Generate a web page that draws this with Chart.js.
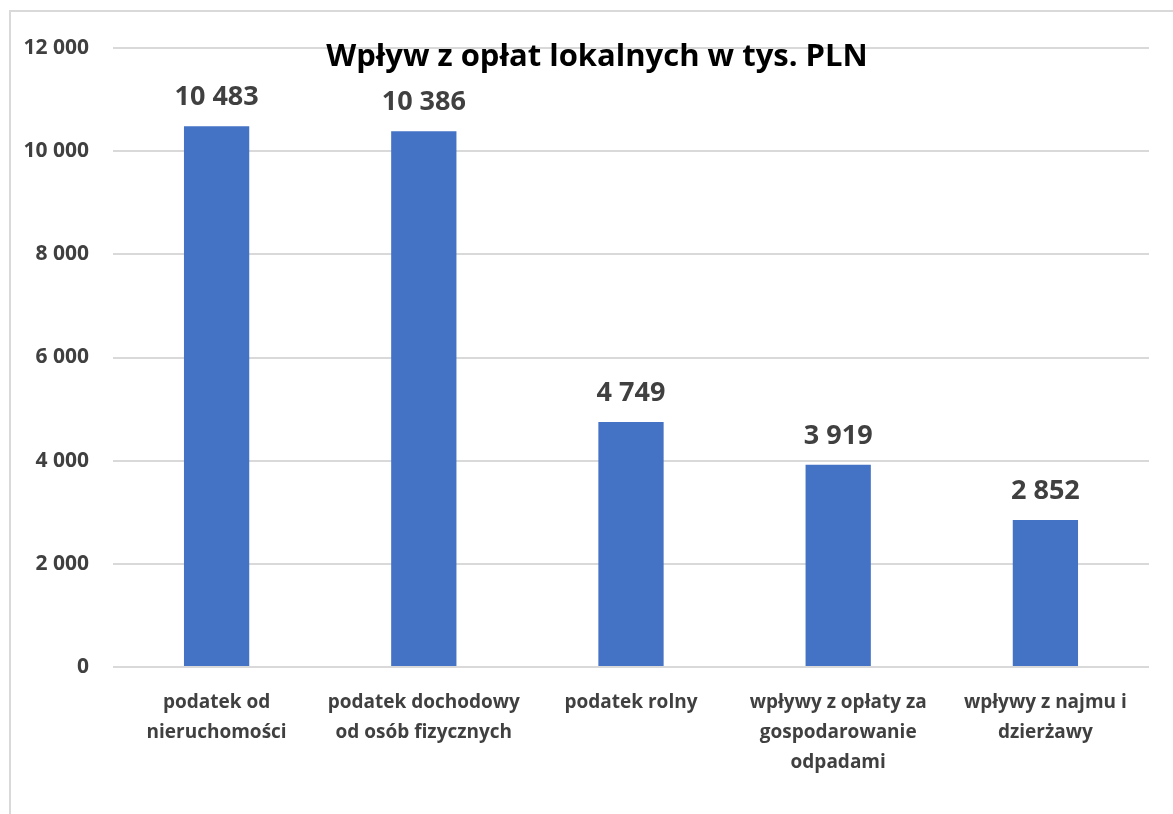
<!DOCTYPE html>
<html>
<head>
<meta charset="utf-8">
<script src="https://cdn.jsdelivr.net/npm/chart.js@4"></script>
<style>
  html, body { margin: 0; padding: 0; background: #fff; }
  #wrap { position: relative; width: 1173px; height: 814px; }
</style>
</head>
<body>
<div id="wrap"><canvas id="chart"></canvas></div>
<script>
// values
const categories = [
    ['podatek od', 'nieruchomości'],
    ['podatek dochodowy', 'od osób fizycznych'],
    ['podatek rolny'],
    ['wpływy z opłaty za', 'gospodarowanie', 'odpadami'],
    ['wpływy z najmu i', 'dzierżawy'],
];
const values = [10483, 10386, 4749, 3919, 2852];
const titleText = 'Wpływ z opłat lokalnych w tys. PLN';
const yMin = 0;
const yMax = 12000;
const yStep = 2000;

const FONT = '"Open Sans", sans-serif';
const TEXT_GREY = '#404040';

const fmt = (v) => String(Math.round(v)).replace(/\B(?=(\d{3})+(?!\d))/g, ' ');

// outer frame + title + value labels
const decorations = {
    id: 'decorations',
    beforeDraw(chart) {
        const ctx = chart.ctx;
        ctx.save();
        ctx.strokeStyle = '#d9d9d9';
        ctx.lineWidth = 2;
        ctx.beginPath();
        ctx.moveTo(10, chart.height + 2);
        ctx.lineTo(10, 11);
        ctx.lineTo(chart.width + 2, 11);
        ctx.stroke();
        ctx.restore();
    },
    afterDraw(chart) {
        const ctx = chart.ctx;
        ctx.save();
        ctx.fillStyle = '#000';
        ctx.font = 'bold 31px ' + FONT;
        ctx.textAlign = 'center';
        ctx.textBaseline = 'alphabetic';
        ctx.fillText(titleText, 597, 66);

        ctx.fillStyle = TEXT_GREY;
        ctx.font = 'bold 27px ' + FONT;
        const meta = chart.getDatasetMeta(0);
        meta.data.forEach((bar, i) => {
            ctx.fillText(fmt(values[i]), bar.x, bar.y - 21);
        });
        ctx.restore();
    },
};

new Chart(document.getElementById('chart'), {
    type: 'bar',
    data: {
        labels: categories,
        datasets: [{
            data: values,
            backgroundColor: '#4472C4',
            categoryPercentage: 1,
            barPercentage: 0.315,
        }],
    },
    options: {
        responsive: true,
        maintainAspectRatio: false,
        animation: false,
        layout: {
            padding: {top: 48, right: 24, bottom: 0, left: 0},
        },
        scales: {
            x: {
                grid: {display: false},
                border: {display: false},
                ticks: {
                    color: TEXT_GREY,
                    font: {family: FONT, size: 19, weight: 'bold', lineHeight: 1.58},
                    padding: 13,
                    maxRotation: 0,
                    autoSkip: false,
                },
                afterFit: (scale) => { scale.height = 147; },
            },
            y: {
                min: yMin,
                max: yMax,
                border: {display: false},
                grid: {color: '#d9d9d9', lineWidth: 2, drawTicks: false},
                ticks: {
                    stepSize: yStep,
                    color: TEXT_GREY,
                    font: {family: FONT, size: 21, weight: 'bold'},
                    padding: 24,
                    callback: (v) => fmt(v),
                },
                afterFit: (scale) => { scale.width = 113; },
            },
        },
        plugins: {
            legend: {display: false},
            title: {display: false},
            tooltip: {enabled: false},
        },
    },
    plugins: [decorations],
});
</script>
</body>
</html>
